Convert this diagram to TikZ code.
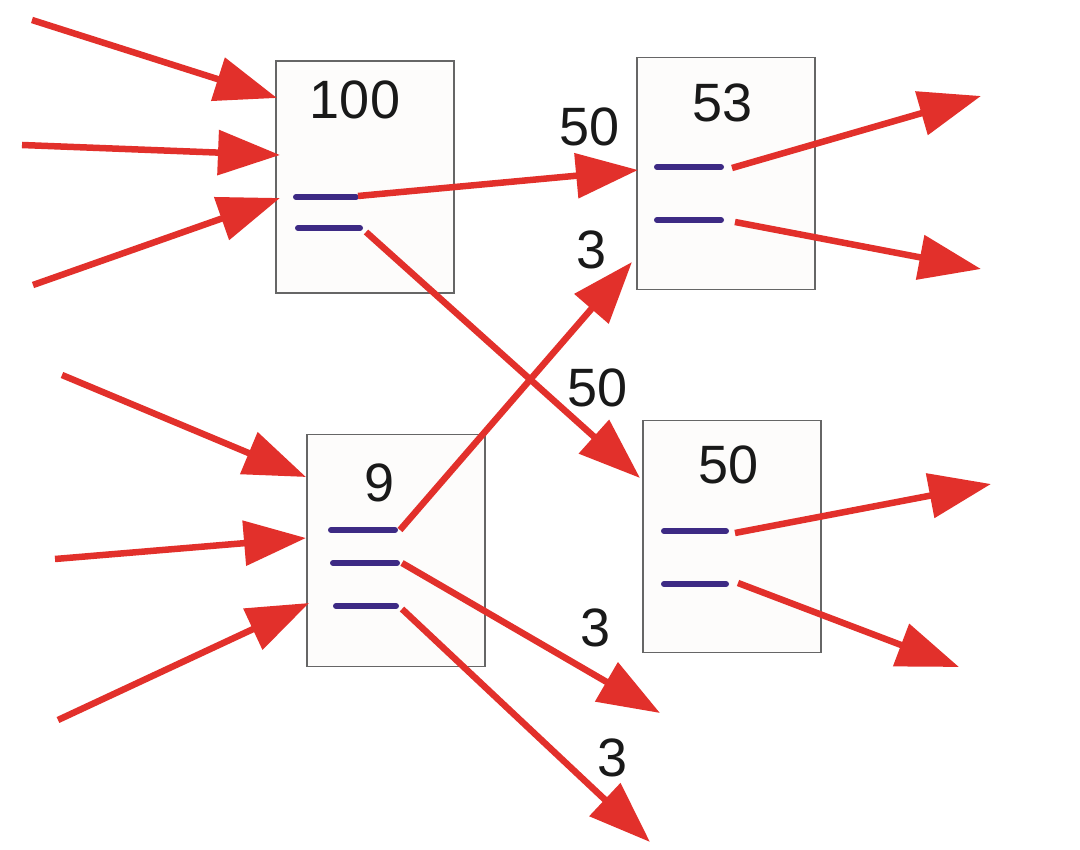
\documentclass[tikz,border=0pt]{standalone}
\usepackage{fontspec}
\setmainfont{Liberation Sans}
\usetikzlibrary{arrows.meta}
\definecolor{arred}{HTML}{E2302B}
\definecolor{barpurple}{HTML}{3D2A84}
\definecolor{boxfill}{HTML}{FDFCFB}
\begin{document}
\begin{tikzpicture}[x=1pt,y=-1pt,
  box/.style={draw=black!60, line width=1.2pt, fill=boxfill, minimum width=178pt, minimum height=232pt, inner sep=0pt, outer sep=0pt},
  bar/.style={draw=barpurple, line width=6pt, line cap=round},
  flow/.style={draw=arred, line width=6.5pt, -{Triangle[length=62pt,width=44pt]}},
  num/.style={font=\fontsize{54}{60}\selectfont, text=black!90, inner sep=0pt}]
\useasboundingbox (0,0) rectangle (1080,850);
\fill[white] (0,0) rectangle (1080,850);
% boxes
\node[box] (A) at (365,177) {};
\node[box] (B) at (726,173.5) {};
\node[box] (C) at (396,550.5) {};
\node[box] (D) at (732,536.5) {};
% titles
\node[num] (tA) at (355,100) {100};
\node[num] (tB) at (723,103) {53};
\node[num] (tC) at (380,483) {9};
\node[num] (tD) at (729,465) {50};
% bars
\coordinate (a1l) at (296,197); \coordinate (a1r) at (356,197);
\coordinate (a2l) at (298,228); \coordinate (a2r) at (360,228);
\coordinate (c1l) at (331,530); \coordinate (c1r) at (395,530);
\coordinate (c2l) at (333,563); \coordinate (c2r) at (397,563);
\coordinate (c3l) at (336,606); \coordinate (c3r) at (396,606);
\coordinate (b1l) at (657,167); \coordinate (b1r) at (721,167);
\coordinate (b2l) at (657,220); \coordinate (b2r) at (721,220);
\coordinate (d1l) at (664,531); \coordinate (d1r) at (726,531);
\coordinate (d2l) at (664,584); \coordinate (d2r) at (726,584);
\foreach \p in {a1,a2,c1,c2,c3,b1,b2,d1,d2} \draw[bar] (\p l) -- (\p r);
% input sources
\coordinate (sA1) at (32,20);  \coordinate (eA1) at (277,98);
\coordinate (sA2) at (22,145); \coordinate (eA2) at (280,155);
\coordinate (sA3) at (33,285); \coordinate (eA3) at (280,198);
\coordinate (sC1) at (62,375); \coordinate (eC1) at (306,477);
\coordinate (sC2) at (55,559); \coordinate (eC2) at (306,538);
\coordinate (sC3) at (58,720); \coordinate (eC3) at (309,603);
\foreach \i in {A1,A2,A3,C1,C2,C3} \draw[flow] (s\i) -- (e\i);
% internal flows
\coordinate (sAB) at (358,196);  \coordinate (eAB) at (638,170);
\coordinate (sAD) at (366,232);  \coordinate (eAD) at (640,478);
\coordinate (sCB) at (400,530);  \coordinate (eCB) at (632,262);
\coordinate (sC2o) at (402,563); \coordinate (eC2o) at (660,713);
\coordinate (sC3o) at (402,609); \coordinate (eC3o) at (650,842);
\foreach \i in {AB,AD,CB,C2o,C3o} \draw[flow] (s\i) -- (e\i);
% outputs
\coordinate (sB1) at (732,168); \coordinate (eB1) at (981,96);
\coordinate (sB2) at (735,222); \coordinate (eB2) at (981,269);
\coordinate (sD1) at (735,533); \coordinate (eD1) at (991,484);
\coordinate (sD2) at (738,583); \coordinate (eD2) at (959,667);
\foreach \i in {B1,B2,D1,D2} \draw[flow] (s\i) -- (e\i);
% labels
\node[num] (l1) at (590,127) {50};
\node[num] (l2) at (592,250) {3};
\node[num] (l3) at (598,388) {50};
\node[num] (l4) at (596,628) {3};
\node[num] (l5) at (613,758) {3};
\end{tikzpicture}
\end{document}
